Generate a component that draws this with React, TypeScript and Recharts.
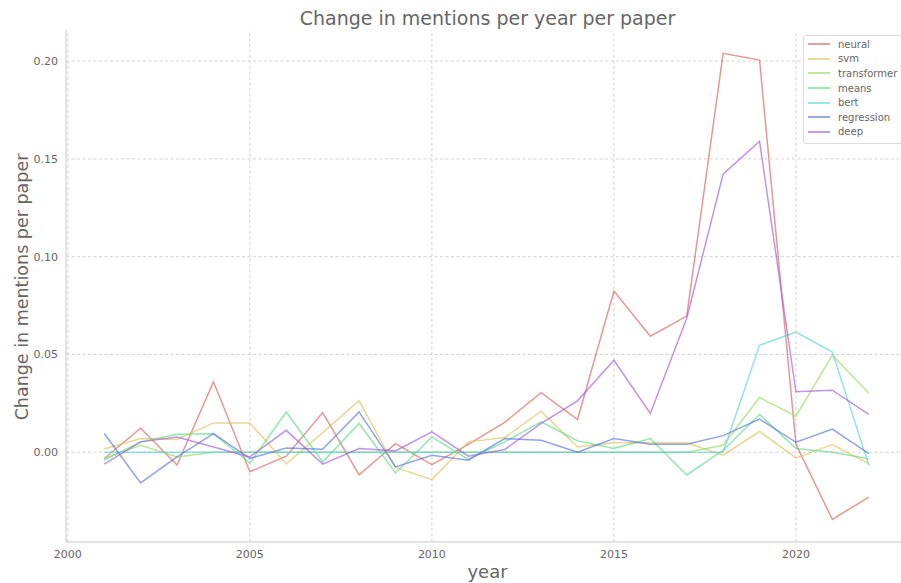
import { LineChart, Line, XAxis, YAxis, ReferenceLine } from "recharts";

// yearly change in term mentions per paper
const years = [
  2001, 2002, 2003, 2004, 2005, 2006, 2007, 2008, 2009, 2010, 2011,
  2012, 2013, 2014, 2015, 2016, 2017, 2018, 2019, 2020, 2021, 2022,
];

const neural = [
  -0.0032, 0.0123, -0.0065, 0.036, -0.01, -0.002, 0.0203, -0.0116, 0.0044, -0.0063, 0.004,
  0.0153, 0.0305, 0.0167, 0.0824, 0.0593, 0.0696, 0.204, 0.2005, 0.004, -0.0344, -0.0229,
];
const svm = [
  0.0017, 0.007, 0.0065, 0.015, 0.015, -0.006, 0.01, 0.0263, -0.0078, -0.014, 0.0053,
  0.0075, 0.021, 0.0027, 0.0048, 0.0048, 0.0048, -0.0015, 0.0106, -0.0029, 0.0039, -0.0058,
];
const transformer = [
  -0.003, 0.0036, -0.0024, 0, 0, 0, 0, 0, 0, 0, 0,
  0, 0, 0, 0, 0, 0, 0.0036, 0.028, 0.0184, 0.0496, 0.0303,
];
const means = [
  -0.004, 0.0053, 0.0092, 0.0095, -0.0055, 0.0206, -0.005, 0.0147, -0.0106, 0.0078, -0.0036,
  0.0053, 0.0155, 0.0058, 0.0019, 0.007, -0.0116, 0.001, 0.0193, 0.0019, 0, -0.0034,
];
const bert = [
  0, 0, 0, 0, 0, 0, 0, 0, 0, 0, 0,
  0, 0, 0, 0, 0, 0, 0, 0.0547, 0.0614, 0.0512, -0.0066,
];
const regression = [
  0.0096, -0.0157, -0.0024, 0.0095, -0.0032, 0.0022, 0.0015, 0.0206, -0.0075, -0.0015, -0.0041,
  0.007, 0.0061, 0, 0.007, 0.0041, 0.0041, 0.0085, 0.017, 0.0051, 0.0118, -0.0007,
];
const deep = [
  -0.0061, 0.0053, 0.0078, 0.0027, -0.0024, 0.0112, -0.0061, 0.0019, 0.0007, 0.0104, -0.002,
  0.0014, 0.0147, 0.0263, 0.047, 0.0198, 0.0685, 0.1422, 0.159, 0.0309, 0.0317, 0.0193,
];

const xTicks = [2000, 2005, 2010, 2015, 2020];
const yTicks = [0, 0.05, 0.1, 0.15, 0.2];
const xDomain = [1999.95, 2023.05];
const yDomain = [-0.0459, 0.2159];

const SERIES = [
  { key: "neural", values: neural, color: "#db5f57" },
  { key: "svm", values: svm, color: "#dbc257" },
  { key: "transformer", values: transformer, color: "#91db57" },
  { key: "means", values: means, color: "#57db80" },
  { key: "bert", values: bert, color: "#57d3db" },
  { key: "regression", values: regression, color: "#5770db" },
  { key: "deep", values: deep, color: "#a157db" },
];

const data = years.map((year, i) => {
  const row: any = { year };
  SERIES.forEach((s) => {
    row[s.key] = s.values[i];
  });
  return row;
});

const TEXT = "#666666";
const FONT = "'DejaVu Sans', sans-serif";
const GRID = { stroke: "#d2d2d2", strokeDasharray: "3 2.5" };

export default function App() {
  return (
    <div
      style={{
        position: "fixed",
        left: 0,
        top: 0,
        width: 901,
        height: 583,
        overflow: "hidden",
        background: "#ffffff",
        fontFamily: FONT,
      }}
    >
      <LineChart
        width={920}
        height={583}
        data={data}
        margin={{ top: 30, right: 13, left: 0, bottom: 0 }}
      >
        <XAxis
          dataKey="year"
          type="number"
          domain={xDomain}
          ticks={xTicks}
          height={41}
          tickLine={false}
          axisLine={{ stroke: "#dadada", strokeWidth: 1.5 }}
          tick={{ fontSize: 11, fill: TEXT, fontFamily: FONT }}
          allowDataOverflow
        />
        <YAxis
          type="number"
          domain={yDomain}
          ticks={yTicks}
          width={66}
          tickLine={false}
          axisLine={{ stroke: "#dadada", strokeWidth: 1.5 }}
          tickFormatter={(v: number) => v.toFixed(2)}
          tick={{ fontSize: 11, fill: TEXT, fontFamily: FONT }}
          allowDataOverflow
        />

        {/* dashed grid at the tick values */}
        {xTicks.map((t) => (
          <ReferenceLine key={`gx${t}`} x={t} {...GRID} />
        ))}
        {yTicks.map((t) => (
          <ReferenceLine key={`gy${t}`} y={t} {...GRID} />
        ))}

        {SERIES.map((s) => (
          <Line
            key={s.key}
            dataKey={s.key}
            stroke={s.color}
            strokeOpacity={0.65}
            strokeWidth={1.5}
            dot={false}
            activeDot={false}
            type="linear"
            isAnimationActive={false}
          />
        ))}
      </LineChart>

      {/* title and axis labels */}
      <div
        style={{
          position: "absolute",
          left: 0,
          width: 975,
          top: 7,
          textAlign: "center",
          fontSize: 19,
          color: TEXT,
        }}
      >
        Change in mentions per year per paper
      </div>
      <div
        style={{
          position: "absolute",
          left: 450,
          width: 75,
          top: 561,
          textAlign: "center",
          fontSize: 18,
          color: TEXT,
        }}
      >
        year
      </div>
      <div
        style={{
          position: "absolute",
          left: 22,
          top: 287,
          transform: "translate(-50%, -50%) rotate(-90deg)",
          whiteSpace: "nowrap",
          fontSize: 17.5,
          color: TEXT,
        }}
      >
        Change in mentions per paper
      </div>

      {/* legend */}
      <div
        style={{
          position: "absolute",
          left: 803,
          top: 35,
          width: 110,
          padding: "1px 0 4px 0",
          background: "rgba(255,255,255,0.8)",
          border: "1px solid #dddddd",
          borderRadius: 3,
        }}
      >
        {SERIES.map((s) => (
          <div
            key={s.key}
            style={{ display: "flex", alignItems: "center", height: 14.6 }}
          >
            <div
              style={{
                marginLeft: 4,
                width: 22,
                height: 2,
                background: s.color,
                opacity: 0.6,
              }}
            />
            <span style={{ marginLeft: 8, fontSize: 10, color: TEXT }}>
              {s.key}
            </span>
          </div>
        ))}
      </div>
    </div>
  );
}
